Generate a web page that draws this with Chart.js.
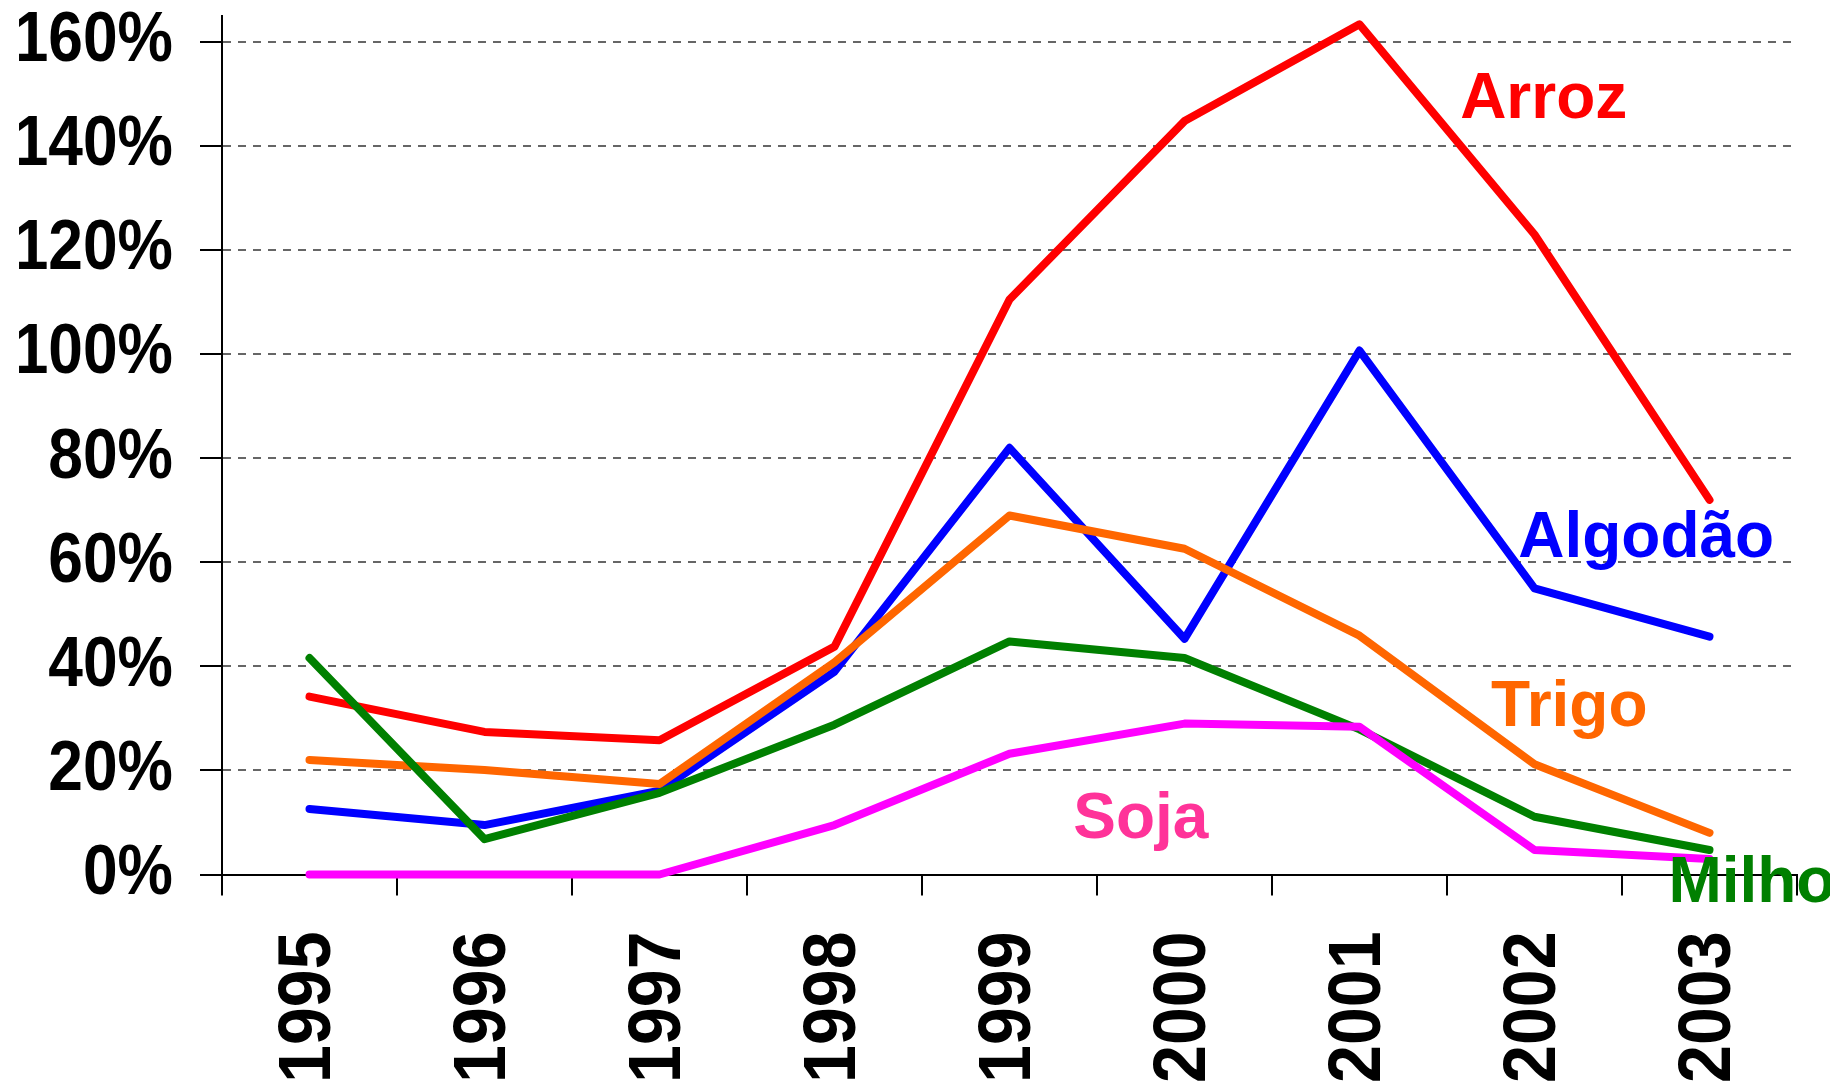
<!DOCTYPE html>
<html>
<head>
<meta charset="utf-8">
<script src="https://cdn.jsdelivr.net/npm/chart.js@4"></script>
<style>
  html, body { margin: 0; padding: 0; background: #ffffff; }
  #wrap { width: 1830px; height: 1084px; }
</style>
</head>
<body>
<div id="wrap"><canvas id="c" width="1830" height="1084"></canvas></div>
<script>
// ---- data ----
const years = ['1995', '1996', '1997', '1998', '1999', '2000', '2001', '2002', '2003'];
const arroz   = [34.2, 27.4, 25.8, 43.8, 110.5, 144.8, 163.4, 123.0, 72.0];
const algodao = [12.6, 9.5, 16.1, 39.0, 82.0, 45.3, 100.7, 55.0, 45.7];
const trigo   = [22.0, 20.1, 17.4, 40.8, 69.0, 62.6, 45.9, 21.2, 8.0];
const milho   = [41.6, 6.8, 15.7, 28.8, 44.8, 41.6, 27.9, 11.1, 4.7];
const soja    = [0, 0, 0, 9.5, 23.2, 29.0, 28.4, 4.7, 3.0];
const yTickValues = [0, 20, 40, 60, 80, 100, 120, 140, 160];
const seriesNames = ['Soja', 'Milho', 'Trigo', 'Algodão', 'Arroz'];

// ---- styles ----
const FONT = '"Liberation Sans", Arial, Helvetica, sans-serif';
const lineColors = { Arroz: '#FF0000', 'Algodão': '#0000FF', Trigo: '#FF6600', Milho: '#008000', Soja: '#FF00FF' };
const labelColors = { Arroz: '#FF0000', 'Algodão': '#0000FF', Trigo: '#FF6600', Milho: '#008000', Soja: '#FF3399' };
// label anchors (left, baseline) expressed in axis units
const labelPos = {
  Arroz:    { x: 6.575, y: 145.3 },
  'Algodão':{ x: 6.907, y: 61.1 },
  Trigo:    { x: 6.752, y: 28.5 },
  Soja:     { x: 4.364, y: 7.0 },
  Milho:    { x: 7.765, y: -5.2 }
};
const Y_LABEL_SX = 0.89;  // horizontal squeeze of y tick labels
const X_LABEL_SY = 0.92;  // squeeze along the rotated x tick labels

const valuesByName = { Arroz: arroz, 'Algodão': algodao, Trigo: trigo, Milho: milho, Soja: soja };

const datasets = seriesNames.map(n => ({
  label: n,
  data: valuesByName[n],
  borderColor: lineColors[n],
  backgroundColor: lineColors[n],
  borderWidth: 8,
  pointRadius: 0,
  pointHoverRadius: 0,
  tension: 0,
  fill: false,
  borderCapStyle: 'round',
  borderJoinStyle: 'round',
  clip: false
}));

const condenseLabels = {
  id: 'condenseLabels',
  beforeDraw(chart) {
    const ys = chart.scales.y, xs = chart.scales.x;
    if (!ys._condensed) {
      const orig = ys.drawLabels.bind(ys);
      ys.drawLabels = function (area) {
        const ctx = this.ctx;
        const px = this.right - this.options.grid.tickLength - this.options.ticks.padding;
        ctx.save();
        ctx.translate(px, 0); ctx.scale(Y_LABEL_SX, 1); ctx.translate(-px, 0);
        orig(area);
        ctx.restore();
      };
      ys._condensed = true;
    }
    if (!xs._condensed) {
      const orig = xs.drawLabels.bind(xs);
      xs._computeLabelArea = () => undefined;
      xs.drawLabels = function (area) {
        const ctx = this.ctx;
        const py = this.top + this.options.grid.tickLength + this.options.ticks.padding;
        ctx.save();
        ctx.translate(0, py); ctx.scale(1, X_LABEL_SY); ctx.translate(0, -py);
        orig(area);
        ctx.restore();
      };
      xs._condensed = true;
    }
  }
};

const seriesLabels = {
  id: 'seriesLabels',
  afterDraw(chart) {
    const ctx = chart.ctx;
    const xs = chart.scales.x, ys = chart.scales.y;
    ctx.save();
    ctx.font = 'bold 64px ' + FONT;
    ctx.textAlign = 'left';
    ctx.textBaseline = 'alphabetic';
    seriesNames.forEach(n => {
      const p = labelPos[n];
      ctx.fillStyle = labelColors[n];
      ctx.fillText(n, xs.getPixelForValue(p.x), ys.getPixelForValue(p.y));
    });
    ctx.restore();
  }
};

new Chart(document.getElementById('c'), {
  type: 'line',
  data: { labels: years, datasets },
  options: {
    responsive: false,
    animation: false,
    devicePixelRatio: 1,
    layout: { padding: { top: 16, right: 33, left: 0, bottom: 0 } },
    plugins: { legend: { display: false }, tooltip: { enabled: false } },
    scales: {
      x: {
        type: 'category',
        offset: true,
        grid: {
          offset: true,
          drawOnChartArea: false,
          drawTicks: true,
          tickLength: 21,
          tickWidth: 2,
          tickColor: '#000',
          color: '#000',
          lineWidth: 2
        },
        border: { display: true, color: '#000', width: 2 },
        ticks: {
          autoSkip: false,
          maxRotation: 90,
          minRotation: 90,
          padding: 36,
          color: '#000',
          font: { family: FONT, size: 74, weight: 'bold' }
        },
        afterFit(s) { s.height = 209.5; s.paddingLeft = 0; s.paddingRight = 0; }
      },
      y: {
        type: 'linear',
        min: 0,
        max: 165,
        afterBuildTicks(s) { s.ticks = yTickValues.map(v => ({ value: v })); },
        grid: {
          drawOnChartArea: true,
          drawTicks: true,
          tickLength: 22,
          tickWidth: 2,
          tickColor: '#000',
          color: '#666666',
          lineWidth: 2
        },
        border: { display: true, color: '#000', width: 2, dash: [8, 7] },
        ticks: {
          padding: 27,
          color: '#000',
          font: { family: FONT, size: 70, weight: 'bold' },
          callback: v => v + '%'
        },
        afterFit(s) { s.width = 222; s.paddingTop = 0; s.paddingBottom = 0; }
      }
    }
  },
  plugins: [condenseLabels, seriesLabels]
});
</script>
</body>
</html>
